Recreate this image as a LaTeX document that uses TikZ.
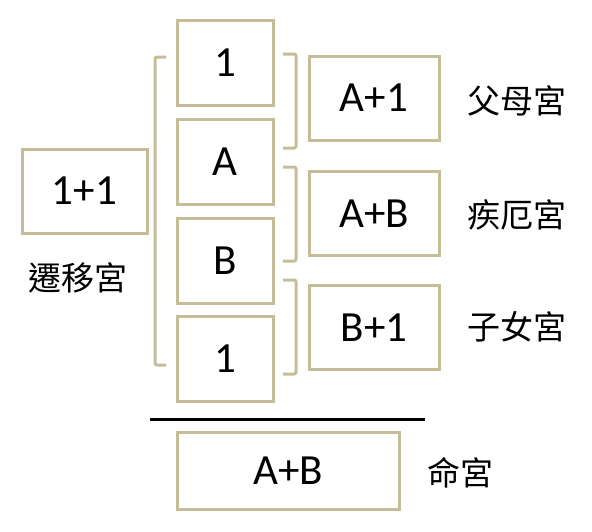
\documentclass[tikz,border=0pt]{standalone}
\usepackage{fontspec}
\setmainfont{Carlito}
\newfontfamily\cjk{Noto Sans CJK TC}
\definecolor{tan}{RGB}{196,189,151}
\begin{document}
\begin{tikzpicture}[x=1pt,y=-1pt,
  box/.style={draw=tan,line width=3pt,fill=white,inner sep=0pt,font=\fontsize{43}{43}\selectfont},
  lbl/.style={font=\cjk\fontsize{33}{33}\selectfont,inner sep=0pt},
  brk/.style={draw=tan,line width=3pt,rounded corners=2pt}]
\useasboundingbox (0,0) rectangle (592,531);
% column boxes
\node[box,minimum width=96pt,minimum height=85pt] (c1) at (225,62.5) {1};
\node[box,minimum width=96pt,minimum height=85pt] (cA) at (225,161.5) {A};
\node[box,minimum width=96pt,minimum height=85pt] (cB) at (225,260.5) {B};
\node[box,minimum width=96pt,minimum height=85pt] (c4) at (225,358.5) {1};
% left box
\node[box,minimum width=125pt,minimum height=84pt] (lt) at (84.5,191) {1+1};
\node[lbl] (ltl) at (78,278) {遷移宮};
% right boxes
\node[box,minimum width=130pt,minimum height=84pt] (r1) at (374,98) {A+1};
\node[box,minimum width=130pt,minimum height=84pt] (r2) at (374,213.5) {A+B};
\node[box,minimum width=130pt,minimum height=84pt] (r3) at (374,327.5) {B+1};
\node[lbl] (r1l) at (517,101) {父母宮};
\node[lbl] (r2l) at (517,215) {疾厄宮};
\node[lbl] (r3l) at (517,327) {子女宮};
% brackets
\draw[brk] (166,57) -- (155,57) -- (155,365) -- (166,365);
\draw[brk] (283,54) -- (296,54) -- (296,148) -- (283,148);
\draw[brk] (283,167) -- (296,167) -- (296,261) -- (283,261);
\draw[brk] (283,280) -- (296,280) -- (296,374) -- (283,374);
% sum line
\coordinate (la) at (150,419);
\coordinate (lb) at (425,419);
\draw[line width=3pt] (la) -- (lb);
% bottom box
\node[box,minimum width=222pt,minimum height=77pt] (bt) at (288,470.5) {A+B};
\node[lbl] (btl) at (460,473) {命宮};
\end{tikzpicture}
\end{document}
